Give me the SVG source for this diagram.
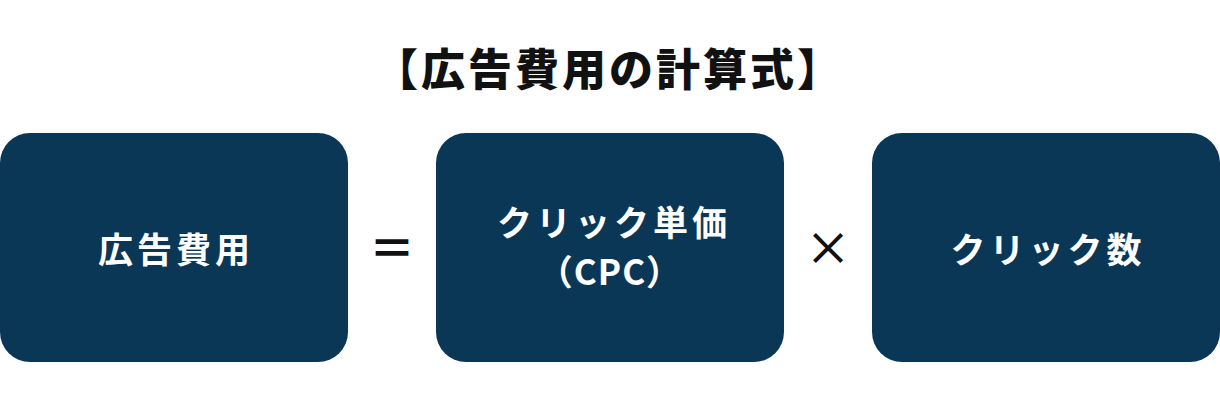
<svg xmlns="http://www.w3.org/2000/svg" width="1220" height="400" viewBox="0 0 1220 400">
<style>
.box{fill:#0b3756}
.t{font-family:"Noto Sans CJK JP","Noto Sans",sans-serif;font-weight:700;fill:#ffffff;font-size:35px;text-anchor:middle;letter-spacing:4px}
.op{font-family:"Noto Sans CJK JP","Noto Sans",sans-serif;font-weight:500;fill:#111111;font-size:46px;text-anchor:middle}
.eq{font-weight:700}
.title{font-family:"Noto Sans CJK JP","Noto Sans",sans-serif;font-weight:900;fill:#111111;font-size:44px;text-anchor:middle;letter-spacing:3px}
</style>
<rect width="1220" height="400" fill="#ffffff"/>
<text class="title" x="609" y="86">【広告費用の計算式】</text>
<g id="node-cost">
<rect class="box" x="0" y="133" width="348" height="229" rx="30"/>
<text class="t" x="176" y="263">広告費用</text>
</g>
<g id="node-cpc">
<rect class="box" x="436" y="133" width="348" height="229" rx="30"/>
<text class="t" x="614" y="236">クリック単価</text>
<text class="t" x="610" y="285" style="letter-spacing:1px">（CPC）</text>
</g>
<g id="node-clicks">
<rect class="box" x="872" y="133" width="348" height="229" rx="30"/>
<text class="t" x="1048" y="263">クリック数</text>
</g>
<g id="connectors">
<text class="op eq" x="392" y="265">＝</text>
<text class="op" x="828" y="265">×</text>
</g>
</svg>
